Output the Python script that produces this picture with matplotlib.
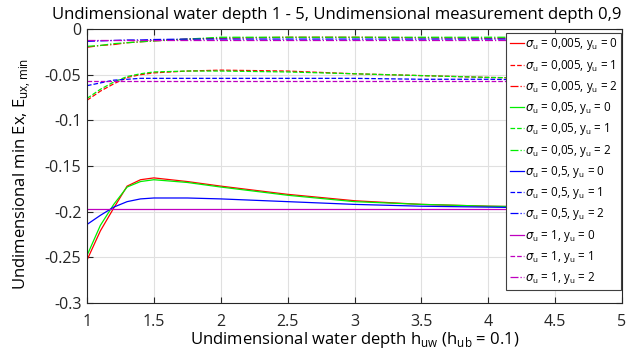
import matplotlib
matplotlib.use('Agg')
import matplotlib.pyplot as plt

plt.rcParams['font.family'] = ['Open Sans', 'DejaVu Sans']
plt.rcParams['mathtext.fontset'] = 'dejavusans'
plt.rcParams['axes.unicode_minus'] = False

h = [1, 1.1, 1.2, 1.3, 1.4, 1.5, 1.75, 2, 2.5, 3, 3.5, 4, 4.5, 5]

# y_u = 0 (solid)
r0 = [-0.253, -0.221, -0.196, -0.172, -0.165, -0.163, -0.167, -0.172, -0.181, -0.188, -0.192, -0.194, -0.195, -0.196]
g0 = [-0.248, -0.215, -0.192, -0.173, -0.167, -0.165, -0.168, -0.173, -0.182, -0.189, -0.192, -0.194, -0.195, -0.196]
b0 = [-0.214, -0.204, -0.195, -0.189, -0.186, -0.185, -0.185, -0.186, -0.189, -0.192, -0.194, -0.195, -0.196, -0.196]
m0 = [-0.197, -0.197, -0.197, -0.197, -0.197, -0.197, -0.197, -0.197, -0.197, -0.197, -0.197, -0.197, -0.197, -0.197]
# y_u = 1 (dashed)
r1 = [-0.078, -0.068, -0.060, -0.053, -0.050, -0.048, -0.046, -0.045, -0.046, -0.049, -0.051, -0.053, -0.054, -0.055]
g1 = [-0.076, -0.066, -0.058, -0.052, -0.049, -0.047, -0.046, -0.046, -0.047, -0.049, -0.051, -0.053, -0.054, -0.055]
b1 = [-0.062, -0.059, -0.056, -0.055, -0.054, -0.054, -0.054, -0.054, -0.054, -0.054, -0.055, -0.055, -0.056, -0.056]
m1 = [-0.057, -0.057, -0.057, -0.057, -0.057, -0.057, -0.057, -0.057, -0.057, -0.057, -0.057, -0.057, -0.057, -0.057]
# y_u = 2 (dash-dot)
r2 = [-0.020, -0.018, -0.017, -0.015, -0.014, -0.013, -0.011, -0.010, -0.009, -0.009, -0.0095, -0.010, -0.010, -0.010]
g2 = [-0.019, -0.018, -0.016, -0.015, -0.014, -0.013, -0.011, -0.009, -0.009, -0.009, -0.009, -0.009, -0.009, -0.009]
b2 = [-0.0135, -0.013, -0.0125, -0.012, -0.012, -0.0115, -0.011, -0.011, -0.011, -0.011, -0.011, -0.011, -0.011, -0.011]
m2 = [-0.012, -0.012, -0.012, -0.012, -0.012, -0.012, -0.012, -0.012, -0.012, -0.012, -0.012, -0.012, -0.012, -0.012]

series = [
    (r0, 'r', '-', '0,005', 0), (r1, 'r', '--', '0,005', 1), (r2, 'r', '-.', '0,005', 2),
    (g0, '#00ee00', '-', '0,05', 0), (g1, '#00ee00', '--', '0,05', 1), (g2, '#00ee00', '-.', '0,05', 2),
    (b0, 'b', '-', '0,5', 0), (b1, 'b', '--', '0,5', 1), (b2, 'b', '-.', '0,5', 2),
    (m0, 'm', '-', '1', 0), (m1, 'm', '--', '1', 1), (m2, 'm', '-.', '1', 2),
]

fig = plt.figure(figsize=(6.29, 3.54), dpi=100)
ax = fig.add_axes([0.1383, 0.144, 0.8506, 0.774])
for vals, c, ls, sig, yu in series:
    ax.plot(h, vals, color=c, linestyle=ls, linewidth=0.9,
            label=r'$\sigma_\mathregular{u}$ = ' + sig + r', y$_\mathregular{u}$ = ' + str(yu))

ax.set_xlim(1, 5)
ax.set_ylim(-0.3, 0)
xt = [1, 1.5, 2, 2.5, 3, 3.5, 4, 4.5, 5]
ax.set_xticks(xt)
ax.set_xticklabels(['1', '1.5', '2', '2.5', '3', '3.5', '4', '4.5', '5'])
yt = [0, -0.05, -0.1, -0.15, -0.2, -0.25, -0.3]
ax.set_yticks(yt)
ax.set_yticklabels(['0', '-0.05', '-0.1', '-0.15', '-0.2', '-0.25', '-0.3'])
ax.tick_params(direction='in', top=True, right=True, labelsize=11.5, length=4, colors='#262626')
ax.tick_params(axis='x', pad=8)
ax.tick_params(axis='y', pad=4)
ax.grid(True, color='#e0e0e0', linewidth=0.8)
for s in ax.spines.values():
    s.set_color('#262626')
    s.set_linewidth(0.8)

fig.text(52 / 629, 1 - 15 / 354, 'Undimensional water depth 1 - 5, Undimensional measurement depth 0,9',
         fontsize=12.0, ha='left', va='center')
ax.set_xlabel(r'Undimensional water depth h$_\mathregular{uw}$ (h$_\mathregular{ub}$ = 0.1)', fontsize=12)
ax.xaxis.set_label_coords(0.5, -0.1)
ax.set_ylabel(r'Undimensional min Ex, E$_\mathregular{ux,min}$', fontsize=12)
ax.yaxis.set_label_coords(-0.101, 0.47)

leg = ax.legend(loc='upper right', bbox_to_anchor=(0.999, 0.986), fontsize=8.4,
                labelspacing=0.45, handlelength=1.2, handletextpad=0.1,
                borderpad=0.3, borderaxespad=0.0, fancybox=False, framealpha=1,
                edgecolor='#404040')
leg.get_frame().set_linewidth(0.8)

plt.savefig('out.png', dpi=100)
